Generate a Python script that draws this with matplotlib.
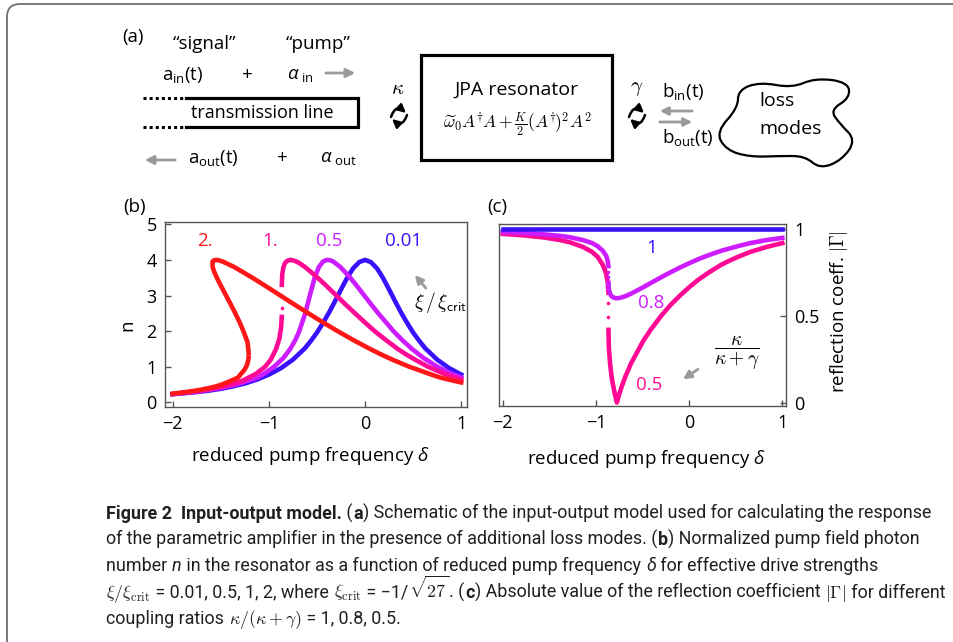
import numpy as np
import matplotlib.pyplot as plt
from matplotlib import font_manager
from matplotlib.patches import FancyBboxPatch, FancyArrowPatch, PathPatch, Rectangle
from matplotlib.path import Path

nan = np.nan

# ---- (b) photon number n vs reduced pump frequency, for xi/xi_crit = 0.01, 0.5, 1, 2
d_001 = [-2.0, -1.875, -1.75, -1.625, -1.5, -1.375, -1.25, -1.125, -1.0, -0.875, -0.75, -0.625,
         -0.5625, -0.5, -0.4375, -0.375, -0.3125, -0.25, -0.1875, -0.125, -0.06, 0.0, 0.06, 0.125,
         0.1875, 0.25, 0.3125, 0.375, 0.4375, 0.5, 0.5625, 0.625, 0.75, 0.875, 1.0]
n_001 = [0.23, 0.26, 0.29, 0.33, 0.38, 0.45, 0.53, 0.64, 0.78, 0.96, 1.20, 1.52,
         1.73, 1.96, 2.23, 2.52, 2.84, 3.17, 3.49, 3.76, 3.94, 4.0, 3.94, 3.76,
         3.49, 3.17, 2.84, 2.52, 2.23, 1.96, 1.73, 1.52, 1.20, 0.96, 0.78]

d_05 = [-2.0, -1.75, -1.51, -1.345, -1.224, -1.115, -1.026, -0.946, -0.848, -0.778, -0.725, -0.684,
        -0.622, -0.574, -0.524, -0.48, -0.438, -0.411, -0.3875, -0.362, -0.328, -0.256, -0.154, -0.094,
        -0.008, 0.064, 0.138, 0.296, 0.386, 0.488, 0.606, 0.752, 0.90, 1.0]
n_05 = [0.233, 0.30, 0.40, 0.50, 0.60, 0.70, 0.85, 1.00, 1.25, 1.50, 1.75, 2.00,
        2.50, 3.00, 3.50, 3.80, 3.95, 3.99, 4.00, 3.99, 3.95, 3.80, 3.50, 3.30,
        3.00, 2.75, 2.50, 2.00, 1.75, 1.50, 1.25, 1.00, 0.80, 0.70]

d_1 = [-2.0, -1.78, -1.55, -1.39, -1.28, -1.135, -1.04, -0.98, -0.925, -0.89, -0.873, -0.866, nan,
       -0.865, -0.861, -0.848, -0.834, -0.82, -0.797, -0.775, -0.749, -0.71, -0.677, -0.624, -0.493,
       -0.413, -0.298, -0.203, -0.104, -0.004, 0.10, 0.217, 0.34, 0.425, 0.52, 0.655, 0.825, 0.93, 1.0]
n_1 = [0.236, 0.30, 0.40, 0.50, 0.60, 0.80, 1.00, 1.20, 1.50, 1.80, 2.10, 2.40, nan,
       3.30, 3.60, 3.80, 3.90, 3.95, 3.99, 4.00, 3.99, 3.95, 3.90, 3.80, 3.50,
       3.30, 3.00, 2.75, 2.50, 2.25, 2.00, 1.75, 1.50, 1.35, 1.20, 1.00, 0.80, 0.70, 0.64]
d_1_dots = [-0.864, -0.864]
n_1_dots = [2.65, 3.0]

d_2 = [-2.0, -1.837, -1.718, -1.625, -1.55, -1.49, -1.399, -1.319, -1.29, -1.258, -1.236, -1.222, -1.214, -1.211, nan,
       -1.210, -1.214, -1.223, -1.265, -1.304, -1.349, -1.396, -1.445, -1.494, -1.541, -1.566, -1.585, -1.586, -1.571,
       -1.55, -1.522, -1.476, -1.36, -1.171, -1.024, -0.88, -0.736, -0.589, -0.44, -0.285, -0.122, 0.052, 0.164,
       0.284, 0.461, 0.67, 0.777, 0.933, 1.0]
n_2 = [0.245, 0.30, 0.35, 0.40, 0.45, 0.50, 0.60, 0.70, 0.80, 0.90, 1.00, 1.10, 1.20, 1.25, nan,
       1.38, 1.50, 1.70, 2.00, 2.25, 2.50, 2.75, 3.00, 3.25, 3.50, 3.65, 3.80, 3.95, 3.99,
       4.00, 3.99, 3.95, 3.80, 3.50, 3.25, 3.00, 2.75, 2.50, 2.25, 2.00, 1.75, 1.50, 1.35,
       1.20, 1.00, 0.80, 0.70, 0.60, 0.56]

# ---- (c) |Gamma| vs reduced pump frequency, for kappa/(kappa+gamma) = 1, 0.8, 0.5
d_c = d_1
g_08 = [0.981, 0.976, 0.967, 0.959, 0.951, 0.934, 0.917, 0.899, 0.872, 0.844, 0.815, 0.785, nan,
        0.687, 0.651, 0.626, 0.613, 0.607, 0.601, 0.600, 0.601, 0.607, 0.613, 0.626, 0.663,
        0.687, 0.721, 0.748, 0.775, 0.800, 0.825, 0.849, 0.872, 0.885, 0.899, 0.917, 0.934, 0.942, 0.947]
g_05 = [0.970, 0.962, 0.949, 0.935, 0.922, 0.894, 0.866, 0.837, 0.791, 0.742, 0.689, 0.632, nan,
        0.418, 0.316, 0.224, 0.158, 0.112, 0.050, 0.0, 0.050, 0.112, 0.158, 0.224, 0.354,
        0.418, 0.500, 0.559, 0.612, 0.661, 0.707, 0.750, 0.791, 0.814, 0.837, 0.866, 0.894, 0.908, 0.917]
d_c_dots = [-0.866, -0.866]
g_08_dots = [0.75, 0.72]
g_05_dots = [0.57, 0.49]
d_c1 = [-2.0, 1.0]
g_1 = [1.0, 1.0]

c_blue = '#3a10ff'
c_violet = '#cc1cff'
c_pink = '#ff0a94'
c_red = '#ff1616'

plt.rcParams['font.family'] = 'Open Sans'
plt.rcParams['mathtext.fontset'] = 'custom'
plt.rcParams['mathtext.rm'] = 'Open Sans'
plt.rcParams['mathtext.it'] = 'Open Sans:italic'
plt.rcParams['mathtext.bf'] = 'Open Sans:bold'
plt.rcParams['mathtext.sf'] = 'Open Sans'

names = {f.name for f in font_manager.fontManager.ttflist}
cap_font = 'Liberation Sans Narrow' if 'Liberation Sans Narrow' in names else 'Roboto'

fig = plt.figure(figsize=(9.54, 6.42), dpi=100)
bg = fig.add_axes([0, 0, 1, 1])
bg.set_xlim(0, 954)
bg.set_ylim(642, 0)
bg.axis('off')

# outer frame
bg.add_patch(FancyBboxPatch((7, 4), 970, 660, boxstyle='round,pad=0,rounding_size=13',
                            ec='#6e6e6e', fc='none', lw=1.3))

# ---- schematic (a)
TS = 13.5
bg.text(133, 37, '(a)', fontsize=TS, ha='center', va='center')
bg.text(205, 44, '\u201csignal\u201d', fontsize=TS, ha='center', va='center')
bg.text(318, 44, '\u201cpump\u201d', fontsize=TS, ha='center', va='center')
bg.text(183, 75, r'a$_{\rm in}$(t)', fontsize=TS, ha='center', va='center')
bg.text(247, 75, '+', fontsize=TS, ha='center', va='center')
bg.text(300, 75, r'$\alpha_{\ \rm in}$', fontsize=TS, ha='center', va='center')
bg.text(213, 158, r'a$_{\rm out}$(t)', fontsize=TS, ha='center', va='center')
bg.text(282, 158, '+', fontsize=TS, ha='center', va='center')
bg.text(338, 158, r'$\alpha_{\ \rm out}$', fontsize=TS, ha='center', va='center')

grey = '#9a9a9a'
bg.add_patch(FancyArrowPatch((323, 73), (358, 73), arrowstyle='-|>', mutation_scale=13, lw=2, color=grey))
bg.add_patch(FancyArrowPatch((178, 160), (142, 160), arrowstyle='-|>', mutation_scale=13, lw=2, color=grey))

# transmission line
bg.plot([186, 358, 358, 186], [98, 98, 127, 127], color='k', lw=2.3, solid_joinstyle='miter')
bg.plot([143, 186], [98, 98], color='k', lw=2.2, ls=(0, (1, 1)))
bg.plot([143, 186], [127, 127], color='k', lw=2.2, ls=(0, (1, 1)))
bg.text(262, 113, 'transmission line', fontsize=13, ha='center', va='center')


def swap_arrows(cx, cy):
    for (x0, y0, x1, y1) in [(cx - 8, cy + 1, cx + 7, cy - 3), (cx + 8, cy - 1, cx - 7, cy + 3)]:
        bg.add_patch(FancyArrowPatch((x0, y0), (x1, y1), connectionstyle='arc3,rad=-0.75',
                                     arrowstyle='-|>', mutation_scale=12, lw=1.8, color='k',
                                     shrinkA=0, shrinkB=0))


bg.text(398, 88, r'$\kappa$', fontsize=15, ha='center', va='center', math_fontfamily='cm')
swap_arrows(399, 116)

# resonator
bg.add_patch(Rectangle((421, 55), 191, 105, fc='none', ec='k', lw=2.3))
bg.text(517, 90, 'JPA resonator', fontsize=14, ha='center', va='center')
bg.text(517, 124, r'$\widetilde{\omega}_0 A^{\dagger\!} A+\frac{K}{2}(A^{\dagger\!})^2A^2$', fontsize=12.5,
        ha='center', va='center', math_fontfamily='cm')

bg.text(637, 88, r'$\gamma$', fontsize=15, ha='center', va='center', math_fontfamily='cm')
swap_arrows(637, 116)
bg.text(683, 92, r'b$_{\rm in}$(t)', fontsize=TS, ha='center', va='center')
bg.text(688, 137, r'b$_{\rm out}$(t)', fontsize=TS, ha='center', va='center')
bg.add_patch(FancyArrowPatch((695, 111), (657, 111), arrowstyle='-|>', mutation_scale=12, lw=2, color=grey))
bg.add_patch(FancyArrowPatch((657, 122), (695, 122), arrowstyle='-|>', mutation_scale=12, lw=2, color=grey))

# loss modes cloud
pts = [(716, 132), (738, 108), (738, 90), (760, 82), (792, 88), (815, 78), (848, 82), (850, 98),
       (830, 110), (840, 124), (856, 140), (842, 160), (820, 169), (805, 156), (780, 156),
       (750, 157), (726, 150)]
m = len(pts)
mid = lambda a, b: ((a[0] + b[0]) / 2, (a[1] + b[1]) / 2)
verts = [mid(pts[0], pts[1])]
codes = [Path.MOVETO]
for i in range(1, m + 1):
    verts += [pts[i % m], mid(pts[i % m], pts[(i + 1) % m])]
    codes += [Path.CURVE3, Path.CURVE3]
bg.add_patch(PathPatch(Path(verts, codes), fc='none', ec='k', lw=1.6))
bg.text(777, 101, 'loss', fontsize=14, ha='center', va='center')
bg.text(791, 129, 'modes', fontsize=14, ha='center', va='center')

# ---- plots
spine_c = '#555555'


def style(ax):
    for s in ax.spines.values():
        s.set_color(spine_c)
        s.set_linewidth(1.0)
    ax.tick_params(direction='in', length=4, width=1, color=spine_c, labelsize=13, pad=6)


axb = fig.add_axes([165 / 954, 1 - 407 / 642, 302 / 954, 185 / 642])
axb.plot(d_001, n_001, color=c_blue, lw=3.3)
axb.plot(d_05, n_05, color=c_violet, lw=3.3)
axb.plot(d_1, n_1, color=c_pink, lw=3.3)
axb.plot(d_1_dots, n_1_dots, 'o', ms=2.6, mew=0, color=c_pink)
axb.plot(d_2, n_2, color=c_red, lw=3.3)
axb.set_xlim(-2.08, 1.06)
axb.set_ylim(-0.13, 5.065)
axb.set_xticks([-2, -1, 0, 1])
axb.set_xticklabels(['\u22122', '\u22121', '0', '1'])
axb.set_yticks([0, 1, 2, 3, 4, 5])
style(axb)
axb.set_xlabel(r'reduced pump frequency $\delta$', fontsize=13.5, va='center')
axb.xaxis.set_label_coords(0.48, -0.265)
axb.set_ylabel('n', fontsize=13.5, va='center')
axb.yaxis.set_label_coords(-0.123, 0.44)
axb.text(-1.664, 4.53, '2.', color=c_red, fontsize=13.5, ha='center', va='center')
axb.text(-0.987, 4.53, '1.', color=c_pink, fontsize=13.5, ha='center', va='center')
axb.text(-0.374, 4.53, '0.5', color=c_violet, fontsize=13.5, ha='center', va='center')
axb.text(0.396, 4.53, '0.01', color=c_blue, fontsize=13.5, ha='center', va='center')
axb.annotate('', xy=(0.50, 3.64), xytext=(0.65, 3.15),
             arrowprops=dict(arrowstyle='-|>', color=grey, lw=2, mutation_scale=12))
axb.text(0.78, 2.8, r'$\xi\,/\,\xi_{\mathsf{crit}}$', fontsize=14, ha='center', va='center',
         math_fontfamily='cm')
fig.text(135 / 954, 1 - 207 / 642, '(b)', fontsize=13.5, ha='center', va='center')

axc = fig.add_axes([499 / 954, 1 - 406 / 642, 287 / 954, 182 / 642])
axc.plot(d_c, g_05, color=c_pink, lw=3.3)
axc.plot(d_c_dots, g_05_dots, 'o', ms=2.6, mew=0, color=c_pink)
axc.plot(d_c, g_08, color=c_violet, lw=3.3)
axc.plot(d_c_dots, g_08_dots, 'o', ms=2.6, mew=0, color=c_violet)
axc.plot(d_c1, g_1, color=c_blue, lw=3.3)
axc.set_xlim(-2.04, 1.04)
axc.set_ylim(-0.02, 1.027)
axc.set_xticks([-2, -1, 0, 1])
axc.set_xticklabels(['\u22122', '\u22121', '0', '1'])
axc.set_yticks([0, 0.5, 1])
axc.set_yticklabels(['0', '0.5', '1'])
axc.yaxis.tick_right()
style(axc)
axc.set_xlabel(r'reduced pump frequency $\delta$', fontsize=13.5, va='center')
axc.xaxis.set_label_coords(0.515, -0.29)
axc.yaxis.set_label_position('right')
axc.set_ylabel(r'reflection coeff. $|\Gamma|$', fontsize=13.5, rotation=90, va='center',
               math_fontfamily='cm')
axc.yaxis.set_label_coords(1.186, 0.52)
axc.text(-0.404, 0.889, '1', color=c_blue, fontsize=13.5, ha='center', va='center')
axc.text(-0.404, 0.571, '0.8', color=c_violet, fontsize=13.5, ha='center', va='center')
axc.text(-0.423, 0.10, '0.5', color=c_pink, fontsize=13.5, ha='center', va='center')
axc.text(0.51, 0.283, r'$\dfrac{\kappa}{\kappa+\gamma}$', fontsize=14, ha='center', va='center',
         math_fontfamily='cm')
axc.annotate('', xy=(-0.09, 0.125), xytext=(0.12, 0.20),
             arrowprops=dict(arrowstyle='-|>', color=grey, lw=2, mutation_scale=12))
fig.text(497 / 954, 1 - 207 / 642, '(c)', fontsize=13.5, ha='center', va='center')

# ---- caption
R = dict()
B = dict(weight='bold')
I = dict(style='italic')
M = dict(math_fontfamily='cm')
cap_lines = [
    [('Figure 2  Input-output model.', B), (' (', R), ('a', B),
     (') Schematic of the input-output model used for calculating the response', R)],
    [('of the parametric amplifier in the presence of additional loss modes. (', R), ('b', B),
     (') Normalized pump field photon', R)],
    [('number ', R), ('n', I), (' in the resonator as a function of reduced pump frequency ', R),
     ('\u03b4', I), (' for effective drive strengths', R)],
    [(r'$\xi/\xi_{\rm crit}$', M), (' = 0.01, 0.5, 1, 2, where ', R), (r'$\xi_{\rm crit}$', M),
     (' = \u22121/', R), (r'$\sqrt{27}$', M), ('. (', R), ('c', B),
     (') Absolute value of the reflection coefficient ', R), (r'$|\Gamma|$', M), (' for different', R)],
    [('coupling ratios ', R), (r'$\kappa/(\kappa+\gamma)$', M), (' = 1, 0.8, 0.5.', R)],
]


def put_line(x, y, parts, size, keep=True):
    r = fig.canvas.get_renderer()
    x0 = x
    made = []
    for s, kw in parts:
        t = bg.text(x, y, s, fontsize=size, family=cap_font, color='#231f20',
                    ha='left', va='baseline', **kw)
        x += t.get_window_extent(r).width + 0.5
        made.append(t)
    if not keep:
        for t in made:
            t.remove()
    return x - x0


cap_size = 13.0
w1 = put_line(106, 519, cap_lines[0], cap_size, keep=False)
cap_size = min(14.0, cap_size * 824 / w1)
for k, line in enumerate(cap_lines):
    put_line(106, 519 + 26.2 * k, line, cap_size)

fig.savefig('out.png', dpi=100)
